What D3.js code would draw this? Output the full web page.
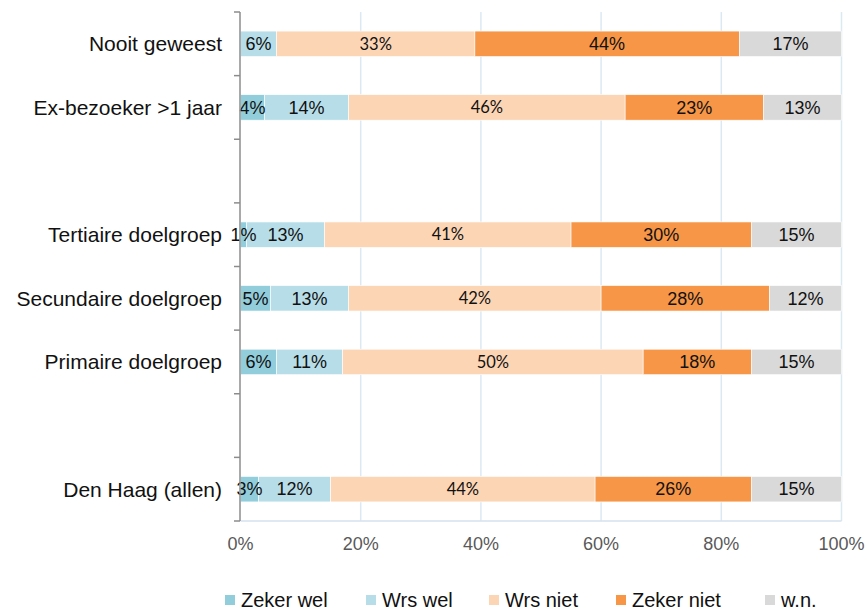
<!DOCTYPE html>
<html>
<head>
<meta charset="utf-8">
<script src="https://cdn.jsdelivr.net/npm/d3@7"></script>
<style>
  body { margin: 0; background: #fff; }
  svg { display: block; }
</style>
</head>
<body>
<svg id="chart" width="867" height="610"></svg>
<script>
// rows top to bottom; empty strings are the spacer rows
const categories = ["Nooit geweest", "Ex-bezoeker >1 jaar", "", "Tertiaire doelgroep",
    "Secundaire doelgroep", "Primaire doelgroep", "", "Den Haag (allen)"]
const seriesNames = ["Zeker wel", "Wrs wel", "Wrs niet", "Zeker niet", "w.n."]
const zekerWel  = [0, 4, null, 1, 5, 6, null, 3]
const wrsWel    = [6, 14, null, 13, 13, 11, null, 12]
const wrsNiet   = [33, 46, null, 41, 42, 50, null, 44]
const zekerNiet = [44, 23, null, 30, 28, 18, null, 26]
const wn        = [17, 13, null, 15, 12, 15, null, 15]
const xTicks = [0, 20, 40, 60, 80, 100]

const colors = ["#92cddc", "#b7dee8", "#fcd5b5", "#f79646", "#d9d9d9"]
const seriesValues = [zekerWel, wrsWel, wrsNiet, zekerNiet, wn]

const svg = d3.select("#chart")
const plotLeft = 240.5, plotRight = 841.5, plotTop = 12, plotBottom = 521

const rowKeys = categories.map((c, i) => i)
const y = d3.scaleBand().domain(rowKeys).range([plotTop, plotBottom])
    .paddingInner(0.6).paddingOuter(0.3)
const x = d3.scaleLinear().domain([0, 100]).range([plotLeft, plotRight])

// gridlines
svg.append("g")
    .selectAll("line")
    .data(xTicks.slice(1))
    .join("line")
    .attr("x1", d => x(d)).attr("x2", d => x(d))
    .attr("y1", plotTop).attr("y2", plotBottom)
    .attr("stroke", "#dde9f2")
    .attr("stroke-width", 1.5)

// bottom axis line
svg.append("line")
    .attr("x1", plotLeft).attr("x2", plotRight)
    .attr("y1", plotBottom).attr("y2", plotBottom)
    .attr("stroke", "#d6e2ee")
    .attr("stroke-width", 1.5)

// stacked segments
const rows = rowKeys.filter(i => zekerWel[i] !== null).map(i => {
    let acc = 0
    return {
        row: i,
        segs: seriesValues.map((vals, s) => {
            const start = acc
            acc += vals[i]
            return { s, start, end: acc, value: vals[i] }
        })
    }
})

const rowG = svg.append("g")
    .selectAll("g")
    .data(rows)
    .join("g")
    .attr("transform", d => `translate(0, ${y(d.row)})`)

rowG.selectAll("rect")
    .data(d => d.segs.filter(s => s.value > 0))
    .join("rect")
    .attr("x", d => x(d.start))
    .attr("width", d => x(d.end) - x(d.start))
    .attr("y", 0)
    .attr("height", y.bandwidth())
    .attr("fill", d => colors[d.s])
    .attr("stroke", "#fff")
    .attr("stroke-width", 0.6)

rowG.selectAll("text")
    .data(d => d.segs.filter(s => s.value > 0))
    .join("text")
    .attr("x", d => (x(d.start) + x(d.end)) / 2)
    .attr("y", y.bandwidth() / 2)
    .attr("dy", "0.35em")
    .attr("text-anchor", "middle")
    .attr("font-family", d => d.s === 2 ? "Lato, 'Open Sans', sans-serif" : "'Liberation Sans', Arial, sans-serif")
    .attr("font-size", d => d.s === 2 ? 16.5 : 18)
    .attr("fill", "#111")
    .text(d => d.value + "%")

// left axis with ticks at row boundaries
const yAxis = svg.append("g").attr("stroke", "#8c8c8c").attr("stroke-width", 1.5)
yAxis.append("line")
    .attr("x1", plotLeft - 0.5).attr("x2", plotLeft - 0.5)
    .attr("y1", plotTop).attr("y2", plotBottom)
yAxis.selectAll(".tick")
    .data(d3.range(categories.length + 1))
    .join("line")
    .attr("class", "tick")
    .attr("x1", plotLeft - 6.5).attr("x2", plotLeft - 0.5)
    .attr("y1", i => plotTop + i * y.step()).attr("y2", i => plotTop + i * y.step())

// category labels
svg.append("g")
    .selectAll("text")
    .data(rowKeys.filter(i => categories[i] !== ""))
    .join("text")
    .attr("x", 222)
    .attr("y", i => y(i) + y.bandwidth() / 2)
    .attr("dy", "0.35em")
    .attr("text-anchor", "end")
    .attr("font-family", "'Liberation Sans', Arial, sans-serif")
    .attr("font-size", 21)
    .attr("fill", "#111")
    .text(i => categories[i])

// x tick labels
svg.append("g")
    .selectAll("text")
    .data(xTicks)
    .join("text")
    .attr("x", d => x(d))
    .attr("y", 550)
    .attr("text-anchor", "middle")
    .attr("font-family", "'Liberation Sans', Arial, sans-serif")
    .attr("font-size", 18)
    .attr("fill", "#595959")
    .text(d => d + "%")

// legend
const legendX = [225, 366, 489, 616, 765]
const legend = svg.append("g")
    .selectAll("g")
    .data(seriesNames)
    .join("g")
    .attr("transform", (d, i) => `translate(${legendX[i]}, 595)`)
legend.append("rect")
    .attr("width", 10).attr("height", 10)
    .attr("fill", (d, i) => colors[i])
legend.append("text")
    .attr("x", 16)
    .attr("y", 5)
    .attr("dy", "0.34em")
    .attr("font-family", "'Liberation Sans', Arial, sans-serif")
    .attr("font-size", 20)
    .attr("fill", "#111")
    .text(d => d)
</script>
</body>
</html>
